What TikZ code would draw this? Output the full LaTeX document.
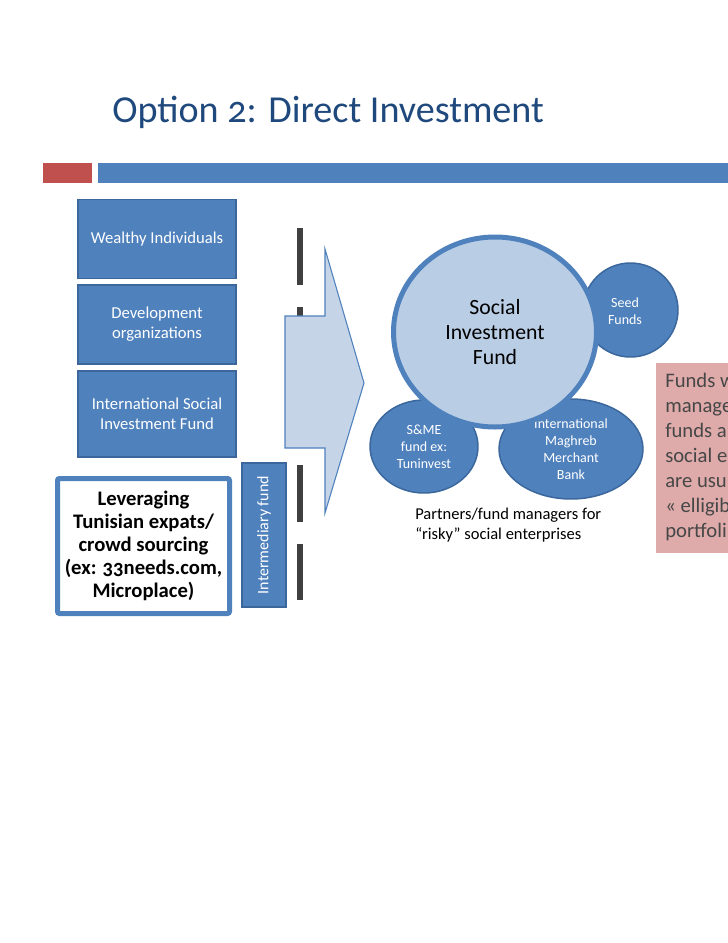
\documentclass[tikz,border=0pt]{standalone}
\usepackage{fontspec}
\setmainfont{Carlito}[Numbers=OldStyle]
\usetikzlibrary{shapes.geometric}
\definecolor{boxblue}{HTML}{4F81BD}
\definecolor{boxedge}{HTML}{3B679C}
\definecolor{titleblue}{HTML}{1F497D}
\definecolor{barred}{HTML}{C0504D}
\definecolor{lightfill}{HTML}{B9CDE5}
\definecolor{arrowfill}{HTML}{C6D4E8}
\definecolor{pinkfill}{HTML}{DEABAA}
\definecolor{dashgray}{HTML}{404040}
\definecolor{pinktext}{HTML}{474747}
\newcommand\pxu{0.75pt}
\begin{document}
\begin{tikzpicture}[x=0.75pt,y=-0.75pt,
  srcbox/.style={draw=boxedge, fill=boxblue, line width=1.1pt, text=white, align=center,
    inner sep=0pt, font=\fontsize{12.5}{15}\selectfont},
  blueoval/.style={ellipse, draw=boxedge, fill=boxblue, line width=1.1pt, text=white,
    align=center, inner sep=0pt, font=\fontsize{10.5}{12.75}\selectfont},
  bigoval/.style={ellipse, draw=boxblue, fill=lightfill, line width=3.75pt, text=black,
    align=center, inner sep=0pt, font=\fontsize{16.3}{18.75}\selectfont},
  levbox/.style={draw=boxblue, fill=white, line width=3.75pt, rounded corners=1.5pt,
    align=center, inner sep=0pt, font=\bfseries\fontsize{15.5}{17.25}\selectfont},
  noteback/.style={fill=pinkfill, inner sep=0pt},
  notetext/.style={text=pinktext, align=left, inner sep=0pt,
    font=\fontsize{15.5}{18.75}\selectfont},
  plain/.style={inner sep=0pt, align=left, font=\fontsize{12.4}{15}\selectfont}
]
\useasboundingbox (0,0) rectangle (728,943);
\clip (0,0) rectangle (728,943);
\fill[white] (0,0) rectangle (728,943);

% title and header bar
\node[anchor=west, inner sep=0pt, text=titleblue, font=\fontsize{28.6}{32}\selectfont] (title) at (112,112) {Option 2: Direct Investment};
\fill[barred] (43,163) rectangle (92,183);
\fill[boxblue] (98,163) rectangle (728,183);

% source boxes
\node[srcbox, minimum width=158*\pxu, minimum height=79*\pxu] (wealthy) at (157,239) {Wealthy Individuals};
\node[srcbox, minimum width=158*\pxu, minimum height=79*\pxu] (dev) at (157,324.5) {Development\\organizations};
\node[srcbox, minimum width=158*\pxu, minimum height=86*\pxu] (isif) at (157,414) {International Social\\Investment Fund};

\node[levbox, minimum width=172*\pxu, minimum height=135*\pxu] (lever) at (143.5,546) {Leveraging\\Tunisian expats/\\crowd sourcing\\(ex: 33needs.com,\\Microplace)};

\node[srcbox, minimum width=44*\pxu, minimum height=144*\pxu] (inter) at (264,535) {};
\node[rotate=90, text=white, inner sep=0pt, font=\fontsize{12}{14}\selectfont] (interlabel) at (inter.center) {Intermediary fund};

% dashed separator
\draw[dashgray, line width=4.5pt, dash pattern=on 42.75pt off 16.5pt] (300,228) -- (300,600);

% big arrow
\draw[draw=boxblue, fill=arrowfill, line width=0.8pt, line join=miter]
  (285,316) -- (325,316) -- (325,249) -- (364,383) -- (325,513) -- (325,448) -- (285,448) -- cycle;

% partner ellipses
\node[blueoval, minimum width=95*\pxu, minimum height=94*\pxu] (seed) at (630.5,310) {};
\node[text=white, align=center, inner sep=0pt, font=\fontsize{10.5}{12.75}\selectfont] (seedlabel) at (625,311) {Seed\\Funds};
\node[blueoval, minimum width=108*\pxu, minimum height=93*\pxu] (sme) at (424,446.5) {S\&ME\\fund ex:\\Tuninvest};
\node[blueoval, minimum width=144*\pxu, minimum height=100*\pxu] (immb) at (571,449) {International\\Maghreb\\Merchant\\Bank};

% central fund
\node[bigoval, minimum width=203*\pxu, minimum height=190*\pxu] (sif) at (495,332) {Social\\Investment\\Fund};

\node[plain, anchor=west] (partners) at (415,525) {Partners/fund managers for\\“risky” social enterprises};

% note box (cut by the page edge)
\node[noteback, anchor=north west, minimum width=150*\pxu, minimum height=190*\pxu] (note) at (656,363) {};
\node[notetext, anchor=west] (notelabel) at (665,457)
  {Funds w\\manage\\funds a\\social e\\are usu\\« elligib\\portfoli};
\end{tikzpicture}
\end{document}
